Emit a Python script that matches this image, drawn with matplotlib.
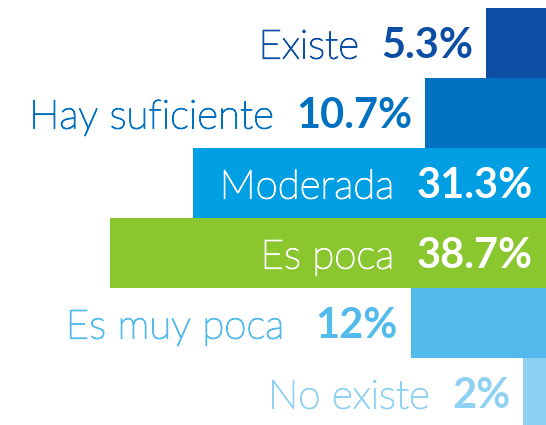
import matplotlib
matplotlib.use("Agg")
from matplotlib import pyplot as plt
from matplotlib import patheffects as pe

labels = ["Existe", "Hay suficiente", "Moderada", "Es poca", "Es muy poca", "No existe"]
values = [5.3, 10.7, 31.3, 38.7, 12, 2]
pct_text = ["5.3%", "10.7%", "31.3%", "38.7%", "12%", "2%"]
colors = ["#0B4EA3", "#0070C1", "#009FE3", "#8AC62E", "#52BBEB", "#8ED1F3"]
inside = [False, False, True, True, False, False]

W, H = 546, 425
px_per_unit = 11.27  # pixels per percent point
bar_px = 70          # bar thickness in pixels
top_px = 8           # gap above first bar

fig = plt.figure(figsize=(W / 100, H / 100), dpi=100)
ax = fig.add_axes([0, 0, 1, 1])
ax.set_xlim(W / px_per_unit, 0)
y_top = -0.5 - top_px / bar_px
ax.set_ylim(y_top + H / bar_px, y_top)
ax.axis("off")

ax.barh(range(len(values)), values, height=1.0, color=colors, left=0)

for i, (lab, v, p, c, ins) in enumerate(zip(labels, values, pct_text, colors, inside)):
    tc = "white" if ins else c
    x0 = 0 if ins else v
    pt = ax.annotate(p, xy=(x0, i), xytext=(-9.5, 0), textcoords="offset points",
                     ha="right", va="center_baseline", fontsize=30, fontweight="bold",
                     family="Lato", color=tc)
    gap = -22 if lab == "Es muy poca" else -16
    ax.annotate(lab, xy=(0, 0), xycoords=pt, xytext=(gap, 0), textcoords="offset points",
                ha="right", va="bottom", fontsize=29, fontweight="light",
                family="Lato", color=tc,
                path_effects=[pe.withStroke(linewidth=0.9, foreground=tc)])

fig.savefig("out.png", dpi=100)
